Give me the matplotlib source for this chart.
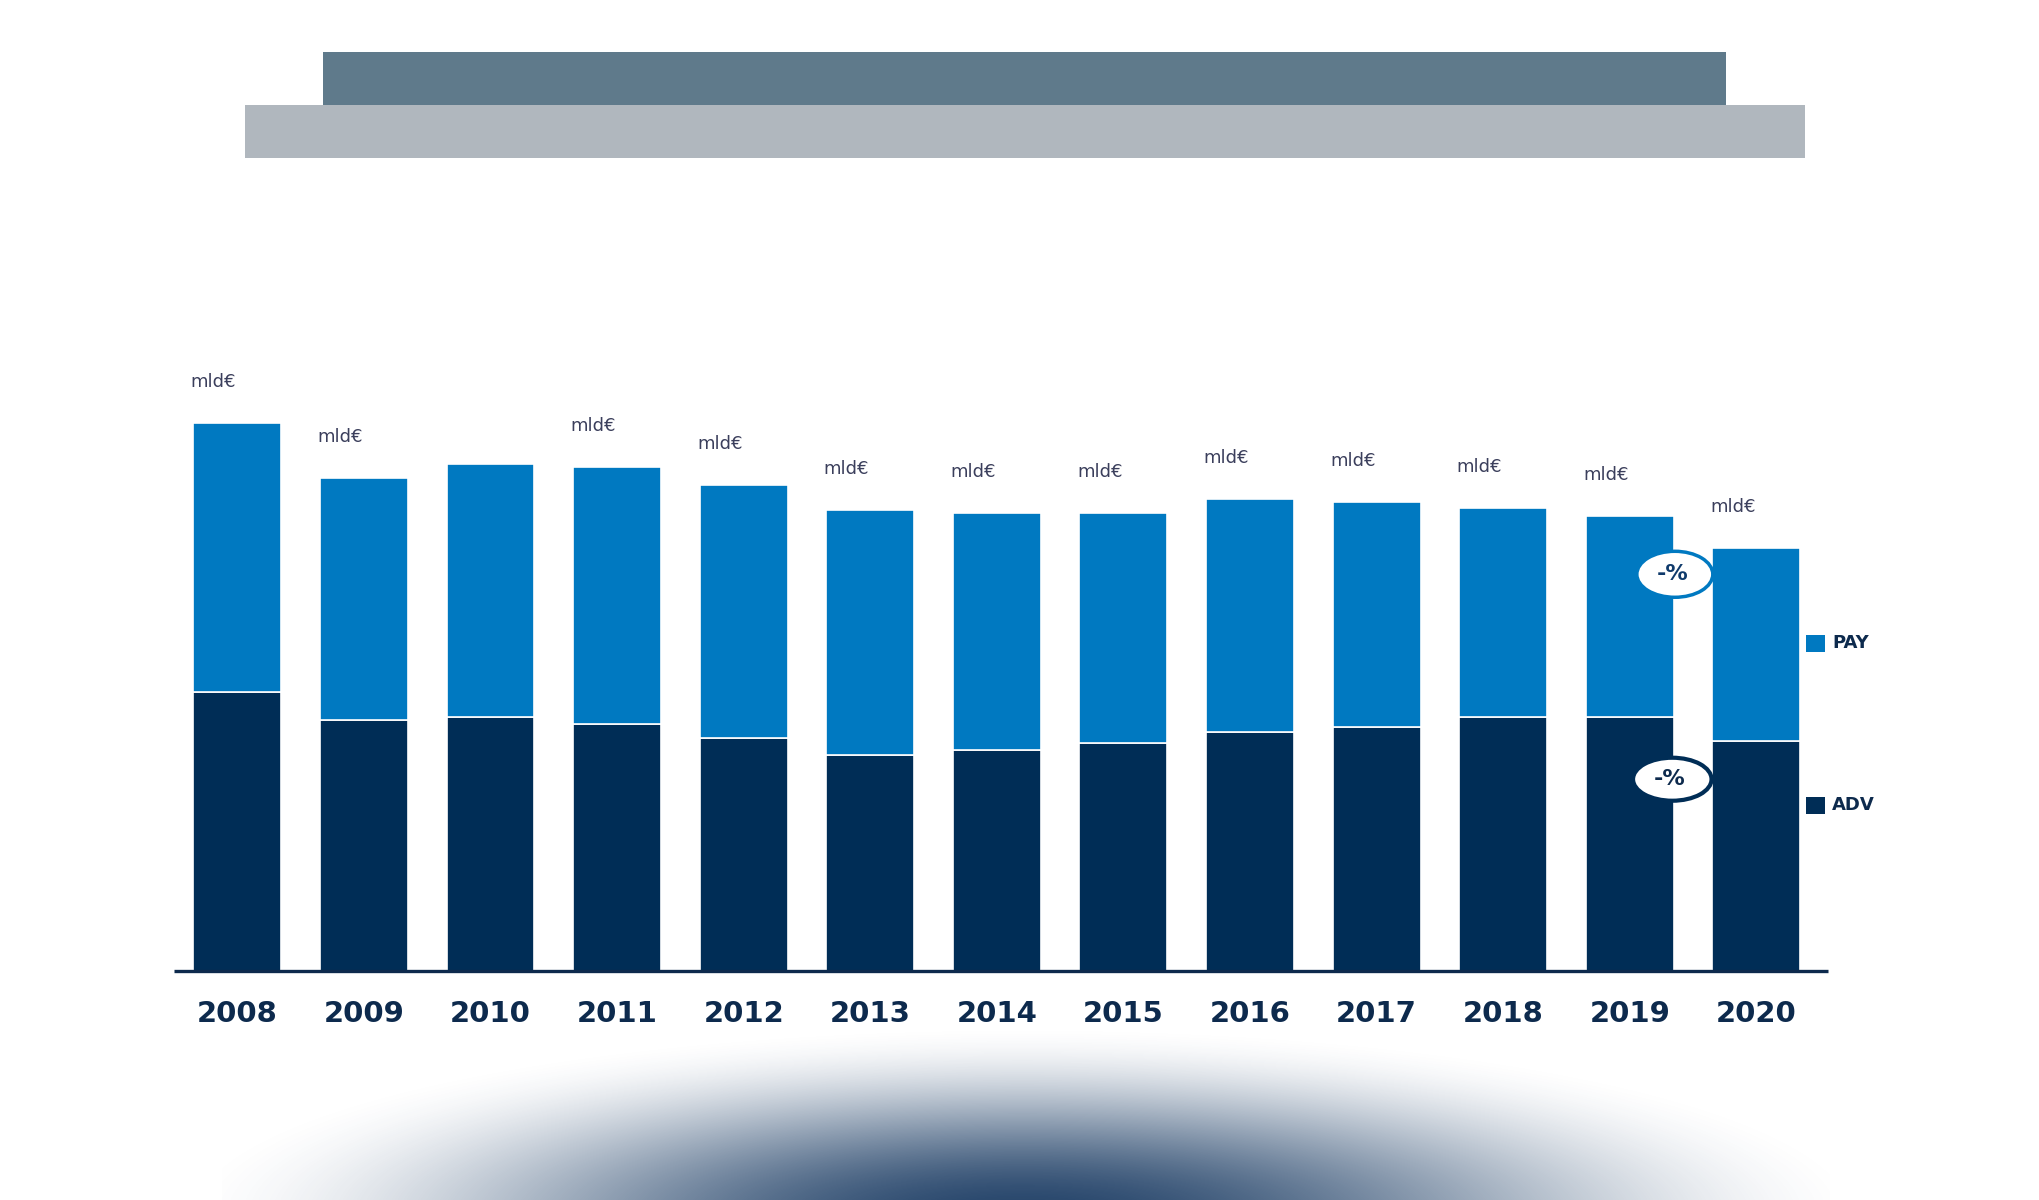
import numpy as np
import matplotlib
matplotlib.use('Agg')
import matplotlib.pyplot as plt
from matplotlib.patches import Rectangle, Ellipse

# values (no axis scale shown, arbitrary units)
years = ['2008', '2009', '2010', '2011', '2012', '2013', '2014',
         '2015', '2016', '2017', '2018', '2019', '2020']
adv = [279, 251, 254, 247, 233, 216, 221, 228, 239, 244, 254, 254, 230]
pay = [269, 242, 253, 257, 253, 245, 237, 230, 233, 225, 209, 201, 193]
unit_labels = ['mld€', 'mld€', '', 'mld€', 'mld€', 'mld€', 'mld€',
               'mld€', 'mld€', 'mld€', 'mld€', 'mld€', 'mld€']
series_names = ['PAY', 'ADV']
change_labels = ['-%', '-%']

PAY_COLOR = '#0079c1'
ADV_COLOR = '#002d56'
NAVY = '#0d2a4d'
W, H = 2040, 1200

fig = plt.figure(figsize=(W / 100, H / 100), dpi=100)
fig.patch.set_facecolor('white')

# header blocks
fig.add_artist(Rectangle((323 / W, 1 - 105 / H), (1726 - 323) / W, 53 / H,
                         transform=fig.transFigure, color='#5f7a8b', lw=0))
fig.add_artist(Rectangle((245 / W, 1 - 158 / H), (1805 - 245) / W, 53 / H,
                         transform=fig.transFigure, color='#b0b7be', lw=0))

# glow at the bottom (smoothstep fade from a dark centre)
gx0, gx1, gy0 = 222, 1830, 1020
gax = fig.add_axes([gx0 / W, 0, (gx1 - gx0) / W, (H - gy0) / H])
gax.axis('off')
xx, yy = np.meshgrid(np.arange(gx0, gx1), np.arange(gy0, H))
t = np.clip(np.sqrt(((xx - 1022) / 860.0) ** 2 + ((yy - 1215) / 192.0) ** 2), 0, 1)
alpha = 1 - (3 * t ** 2 - 2 * t ** 3)
img = np.zeros(xx.shape + (4,))
img[..., 0] = 0x1f / 255
img[..., 1] = 0x3f / 255
img[..., 2] = 0x66 / 255
img[..., 3] = alpha * 0.97
gax.imshow(img, aspect='auto', interpolation='bilinear')

# main chart
ax = fig.add_axes([174 / W, 229 / H, (1828 - 174) / W, 671 / H])
x = np.arange(len(years))
bw = 0.695
ax.bar(x, adv, bw, color=ADV_COLOR, edgecolor='white', linewidth=1.2, zorder=2)
totals = [a + p for a, p in zip(adv, pay)]
ax.bar(x, pay, bw, bottom=adv, color=PAY_COLOR, edgecolor='white', linewidth=1.2, zorder=2)
ax.set_xlim(-0.5, 12.565)
ax.set_ylim(0, 671)
ax.axhline(0, color=NAVY, lw=2.4, zorder=3, clip_on=False, solid_capstyle='butt')

for i, lbl in enumerate(unit_labels):
    if lbl:
        ax.annotate(lbl, (i - bw / 2 - 0.02, totals[i]), xytext=(0, 41),
                    textcoords='offset pixels', ha='left', va='center',
                    fontsize=13, color='#3b3f5c')

ax.set_xticks(x, years)
ax.tick_params(axis='x', length=0, pad=21, labelsize=21, labelcolor=NAVY)
for lab in ax.get_xticklabels():
    lab.set_fontweight('bold')
ax.set_yticks([])
for s in ax.spines.values():
    s.set_visible(False)
ax.patch.set_alpha(0)

# -% badges between 2019 and 2020
i = 11
bx = i + 0.355
pay_y = adv[i] + pay[i] * 0.71
adv_y = adv[i] * 0.755
ax.add_patch(Ellipse((bx, pay_y), 0.6, 46, facecolor='white',
                     edgecolor=PAY_COLOR, lw=2.5, zorder=4))
ax.text(bx - 0.02, pay_y, change_labels[0], ha='center', va='center',
        fontsize=16, fontweight='bold', color='#0f3a6b', zorder=5)
ax.add_patch(Ellipse((bx - 0.02, adv_y), 0.62, 43, facecolor='white',
                     edgecolor=ADV_COLOR, lw=3, zorder=4))
ax.text(bx - 0.04, adv_y, change_labels[1], ha='center', va='center',
        fontsize=16, fontweight='bold', color=NAVY, zorder=5)

# legend
for name, col, yc in [(series_names[0], PAY_COLOR, 643), (series_names[1], ADV_COLOR, 805)]:
    fig.add_artist(Rectangle((1806 / W, 1 - (yc + 9) / H), 19 / W, 17 / H,
                             transform=fig.transFigure, color=col, lw=0))
    fig.text(1832 / W, 1 - yc / H, name, ha='left', va='center',
             fontsize=13, fontweight='bold', color=NAVY)

fig.savefig('out.png', dpi=100)
